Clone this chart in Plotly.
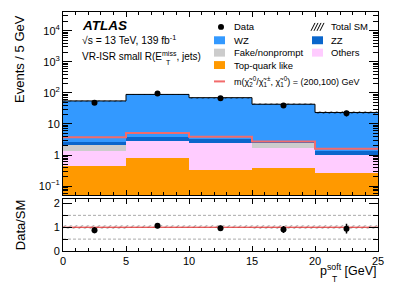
import numpy as np
import plotly.graph_objects as go

# ---------------- data ----------------
bin_edges = [0, 5, 10, 15, 20, 25]
data = [48, 95, 67, 39, 22]
wz = [52.4, 85.3, 66.8, 40.5, 22.0]
zz = [0.45, 0.81, 0.75, 0.10, 0.40]
fake = [0.75, 0.02, 0.02, 0.77, 0.01]
others = [0.95, 2.04, 2.13, 1.30, 0.71]
top = [0.45, 0.82, 0.32, 0.38, 0.26]
signal = [3.7, 5.1, 3.9, 2.75, 1.6]
sm_unc_rel = [0.08, 0.07, 0.07, 0.08, 0.08]

# ---------------- derived ----------------
edges = np.array(bin_edges, dtype=float)
centers = 0.5 * (edges[:-1] + edges[1:])
widths = np.diff(edges)
c_top = np.array(top)
c_oth = c_top + np.array(others)
c_fake = c_oth + np.array(fake)
c_zz = c_fake + np.array(zz)
total = c_zz + np.array(wz)
unc = total * np.array(sm_unc_rel)
d = np.array(data, dtype=float)
derr = np.sqrt(d)
ratio = d / total
rerr = derr / total

C_WZ = "#3399ff"
C_ZZ = "#0a66cc"
C_FAKE = "#cccccc"
C_OTH = "#ffccff"
C_TOP = "#ff9900"
C_SIG = "#f26b6b"

FONT = "Liberation Sans, Arial, sans-serif"

fig = go.Figure()

# stacked histograms (cumulative, drawn largest first)
for cum, col, name in [(total, C_WZ, "WZ"), (c_zz, C_ZZ, "ZZ"), (c_fake, C_FAKE, "Fake"),
                       (c_oth, C_OTH, "Others"), (c_top, C_TOP, "Top")]:
    fig.add_trace(go.Bar(x=centers, y=cum, width=widths, marker=dict(color=col, line=dict(width=0)),
                         xaxis="x2", yaxis="y2", showlegend=False, name=name))

# total SM uncertainty hatch (main)
fig.add_trace(go.Bar(x=centers, y=2 * unc, base=total - unc, width=widths,
                     marker=dict(color="rgba(0,0,0,0)", line=dict(width=0),
                                 pattern=dict(shape="/", fgcolor="black", bgcolor="rgba(0,0,0,0)",
                                              size=4, solidity=0.25)),
                     xaxis="x2", yaxis="y2", showlegend=False))

step_x = list(edges)
fig.add_trace(go.Scatter(x=step_x, y=list(total) + [total[-1]], mode="lines", line_shape="hv",
                         line=dict(color="black", width=1), xaxis="x2", yaxis="y2", showlegend=False))
fig.add_trace(go.Scatter(x=step_x, y=list(signal) + [signal[-1]], mode="lines", line_shape="hv",
                         line=dict(color=C_SIG, width=2), xaxis="x2", yaxis="y2", showlegend=False))
fig.add_trace(go.Scatter(x=centers, y=d, mode="markers",
                         marker=dict(color="black", size=6),
                         error_y=dict(type="data", array=derr, color="black", thickness=1.5, width=0),
                         xaxis="x2", yaxis="y2", showlegend=False))

# ratio panel
fig.add_trace(go.Bar(x=centers, y=2 * np.array(sm_unc_rel), base=1 - np.array(sm_unc_rel), width=widths,
                     marker=dict(color="rgba(0,0,0,0)", line=dict(width=0),
                                 pattern=dict(shape="/", fgcolor="#444", bgcolor="rgba(0,0,0,0)",
                                              size=4, solidity=0.25)),
                     xaxis="x", yaxis="y", showlegend=False))
fig.add_trace(go.Scatter(x=[edges[0], edges[-1]], y=[1, 1], mode="lines",
                         line=dict(color="#e02020", width=1), xaxis="x", yaxis="y", showlegend=False))
fig.add_trace(go.Scatter(x=centers, y=ratio, mode="markers",
                         marker=dict(color="black", size=6),
                         error_y=dict(type="data", array=rerr, color="black", thickness=1.5, width=0),
                         xaxis="x", yaxis="y", showlegend=False))

# ---------------- layout ----------------
L, R, T, B = 63, 21, 10, 35
W, H = 399, 286
PW, PH = W - L - R, H - T - B


def px(x):
    return (x - L) / PW


def py(y):
    return (H - B - y) / PH


main_bottom = py(195)
ratio_top = py(199)

axis_common = dict(showline=True, linecolor="black", linewidth=1, mirror="allticks",
                   ticks="inside", tickcolor="black", showgrid=False, zeroline=False,
                   tickfont=dict(family=FONT, size=11, color="black"))

minor_log = [m * 10.0 ** k for k in range(-2, 5) for m in range(2, 10)]

fig.update_layout(
    width=W, height=H, margin=dict(l=L, r=R, t=T, b=B),
    paper_bgcolor="white", plot_bgcolor="white",
    barmode="overlay", bargap=0, showlegend=False,
    font=dict(family=FONT, color="black"),
    xaxis=dict(domain=[0, 1], range=[0, 25], anchor="y", dtick=5, ticklen=5,
               minor=dict(dtick=1, ticks="inside", ticklen=3, tickcolor="black"), **axis_common),
    yaxis=dict(domain=[0, ratio_top], range=[0, 2.17], anchor="x", tickvals=[0, 1, 2], ticklen=9,
               minor=dict(dtick=0.5, ticks="inside", ticklen=5, tickcolor="black"), **axis_common),
    xaxis2=dict(domain=[0, 1], range=[0, 25], anchor="y2", matches="x", dtick=5, ticklen=5,
                showticklabels=False,
                minor=dict(dtick=1, ticks="inside", ticklen=3, tickcolor="black"), **axis_common),
    yaxis2=dict(domain=[main_bottom, 1], type="log", range=[-1.3, 4.6], anchor="x2",
                tickvals=[0.1, 1, 10, 100, 1000, 10000],
                ticktext=["10<sup>−1</sup>", "1", "10", "10<sup>2</sup>", "10<sup>3</sup>", "10<sup>4</sup>"],
                ticklen=9,
                minor=dict(tickvals=minor_log, ticks="inside", ticklen=5, tickcolor="black"), **axis_common),
)

shapes = []
for yv in [0.5, 1.5]:
    shapes.append(dict(type="line", xref="x", yref="y", x0=0, x1=25, y0=yv, y1=yv,
                       line=dict(color="#aaaaaa", width=1, dash="3px,2px"), layer="below"))

# legend symbols
def box(x0, y0, x1, y1, col):
    shapes.append(dict(type="rect", xref="paper", yref="paper", x0=px(x0), x1=px(x1),
                       y0=py(y1), y1=py(y0), fillcolor=col, line=dict(width=0)))

shapes.append(dict(type="circle", xref="paper", yref="paper", x0=px(218), x1=px(224),
                   y0=py(28), y1=py(22), fillcolor="black", line=dict(width=0)))
box(214, 34.5, 225, 42.5, C_WZ)
box(214, 47, 225, 55, C_FAKE)
box(214, 59.5, 225, 67.5, C_TOP)
shapes.append(dict(type="line", xref="paper", yref="paper", x0=px(214), x1=px(225), y0=py(80), y1=py(80),
                   line=dict(color=C_SIG, width=2)))
for i in range(4):
    x0 = 311 + 3 * i
    shapes.append(dict(type="line", xref="paper", yref="paper", x0=px(x0), x1=px(x0 + 4),
                       y0=py(29), y1=py(21), line=dict(color="black", width=1)))
box(312, 34.5, 323, 42.5, C_ZZ)
box(312, 47, 323, 55, C_OTH)

annots = []


def txt(x, y, s, size=9.5, **kw):
    a = dict(xref="paper", yref="paper", x=px(x), y=py(y), text=s, showarrow=False,
             xanchor="left", yanchor="middle", font=dict(family=FONT, size=size, color="black"))
    a.update(kw)
    annots.append(a)


txt(80, 24, "<b><i>ATLAS</i></b>", size=13.5)
txt(80, 38, "√s = 13 TeV, 139 fb<sup>-1</sup>", size=10.3)
txt(80, 54, "VR-ISR small R(E<sup>miss</sup>, jets)", size=10)
txt(163.5, 60.5, "T", size=7)

txt(232, 25, "Data")
txt(232, 38.5, "WZ")
txt(232, 51, "Fake/nonprompt")
txt(232, 63.5, "Top-quark like")
txt(232, 80, "m(χ̃<sub>2</sub><sup>0</sup>/χ̃<sub>1</sub><sup>±</sup>, χ̃<sub>1</sub><sup>0</sup>) = (200,100) GeV", size=9)
txt(329, 25, "Total SM")
txt(329, 38.5, "ZZ")
txt(329, 51, "Others")

# axis titles
txt(20, 11, "Events / 5 GeV", size=13, textangle=-90, xanchor="center", yanchor="top")
txt(20, 225, "Data/SM", size=13, textangle=-90, xanchor="center", yanchor="middle")
txt(379, 270, "p<sup>soft</sup> [GeV]", size=12.5, xanchor="right", yanchor="middle")
txt(329.5, 279, "T", size=8.5)

fig.update_layout(shapes=shapes, annotations=annots)
fig.write_html("out.html", post_script="document.body.style.margin='0';",
               config={"displayModeBar": False})
